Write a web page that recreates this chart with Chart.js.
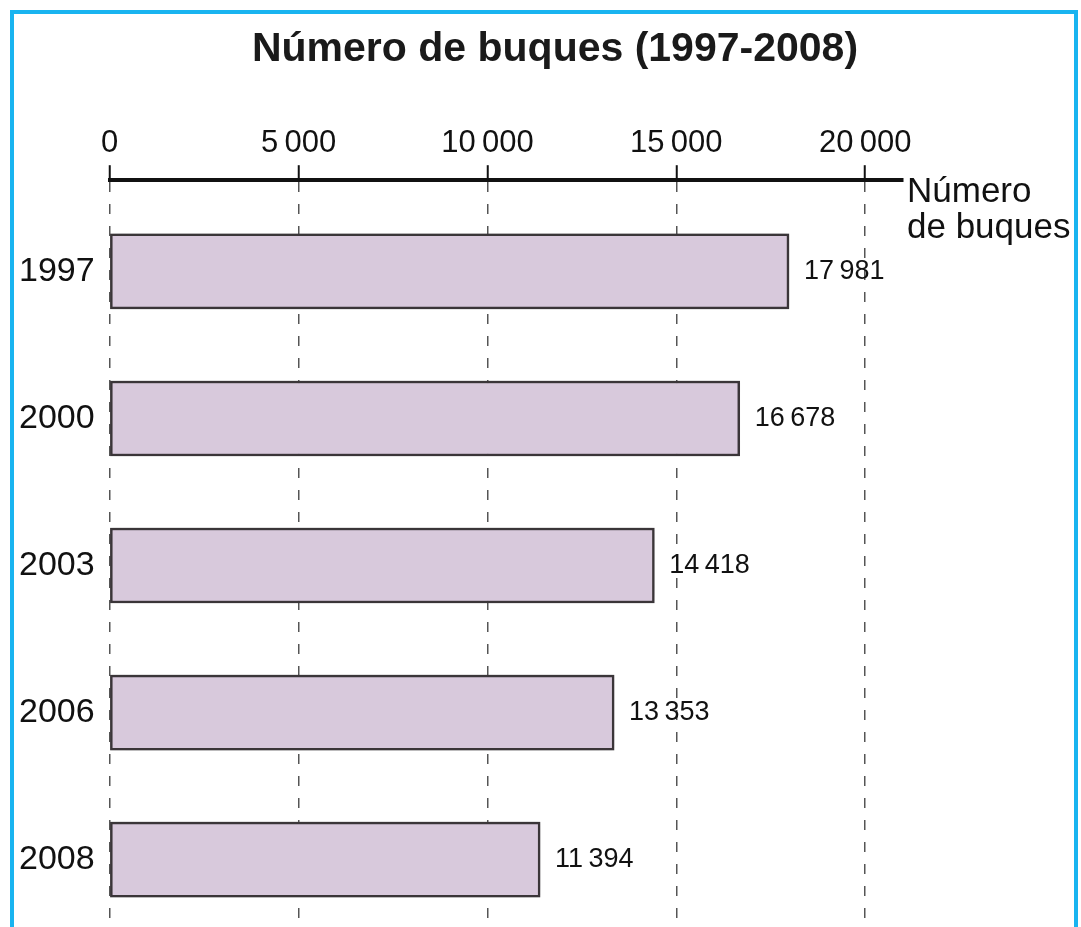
<!DOCTYPE html>
<html>
<head>
<meta charset="utf-8">
<script src="https://cdn.jsdelivr.net/npm/chart.js@4"></script>
<style>
  html, body { margin: 0; padding: 0; background: #fff; overflow: hidden; }
  #wrap { position: relative; width: 1081px; height: 927px; overflow: hidden; }
  #chart { position: absolute; left: 0; top: 0; }
  #frame { position: absolute; left: 10px; top: 10px; width: 1060px; height: 1000px;
           border: 4px solid #19b4f0; pointer-events: none; }
  #title { position: absolute; left: 0; top: 24px; width: 1110px; text-align: center;
           font: bold 41px 'Liberation Sans', Arial, sans-serif; color: #1a1a1a; line-height: 46px; }
</style>
</head>
<body>
<div id="wrap">
  <canvas id="chart" width="1081" height="962"></canvas>
  <div id="title">Número de buques (1997-2008)</div>
  <div id="frame"></div>
</div>
<script>
// data
const years = ['1997', '2000', '2003', '2006', '2008'];
const buques = [17981, 16678, 14418, 13353, 11394];
const xTicks = [0, 5000, 10000, 15000, 20000];
const axisTitle = ['Número', 'de buques'];

const FONT = "'Liberation Sans', Arial, sans-serif";
const fmt = v => String(v).replace(/\B(?=(\d{3})+(?!\d))/g, '\u2009');

// soft grey halo round the bars, like the printed page
const barShadow = {
  id: 'barShadow',
  beforeDatasetsDraw(chart) {
    const ctx = chart.ctx;
    ctx.save();
    ctx.shadowColor = 'rgba(60,60,60,0.5)';
    ctx.shadowBlur = 12;
    ctx.shadowOffsetY = -2;
  },
  afterDatasetsDraw(chart) { chart.ctx.restore(); }
};

// value at the end of each bar + the axis name right of the axis line
const labels = {
  id: 'labels',
  afterDraw(chart) {
    const ctx = chart.ctx;
    const meta = chart.getDatasetMeta(0);
    ctx.save();
    ctx.fillStyle = '#111';
    ctx.textBaseline = 'middle';
    ctx.textAlign = 'left';
    ctx.font = '27px ' + FONT;
    meta.data.forEach((bar, i) => {
      ctx.fillText(fmt(buques[i]), bar.x + 15, bar.y);
    });
    const a = chart.chartArea;
    ctx.font = '35px ' + FONT;
    ctx.fillText(axisTitle[0], a.right + 4, a.top + 12);
    ctx.fillText(axisTitle[1], a.right + 4, a.top + 48);
    ctx.restore();
  }
};

new Chart(document.getElementById('chart'), {
  type: 'bar',
  data: {
    datasets: [{
      data: buques.map((v, i) => ({ x: v, y: i })),
      backgroundColor: '#d8c9dc',
      borderColor: '#3b3539',
      borderWidth: 2.5,
      borderSkipped: false,
      barThickness: 75,
    }],
  },
  options: {
    indexAxis: 'y',
    responsive: false,
    animation: false,
    layout: { padding: { top: 122, left: 4, right: 178, bottom: 0 } },
    plugins: { legend: { display: false }, tooltip: { enabled: false } },
    scales: {
      x: {
        type: 'linear',
        position: 'top',
        min: 0,
        max: 21000,
        afterBuildTicks: s => { s.ticks = xTicks.map(v => ({ value: v })); },
        ticks: { callback: v => fmt(v), font: { family: FONT, size: 31 }, color: '#111', padding: 3, maxRotation: 0 },
        grid: { color: '#555', lineWidth: 1.5, tickLength: 15, tickColor: '#111', tickWidth: 2 },
        border: { color: '#111', width: 4, dash: [10, 12] },
      },
      y: {
        type: 'linear',
        offset: false,
        reverse: true,
        min: -0.62,
        max: 4.455,
        afterBuildTicks: s => { s.ticks = years.map((_, i) => ({ value: i })); },
        ticks: { callback: v => years[v], font: { family: FONT, size: 34 }, color: '#111', padding: 15 },
        grid: { display: false, drawTicks: false, offset: false },
        border: { display: false },
      },
    },
  },
  plugins: [barShadow, labels],
});
</script>
</body>
</html>
